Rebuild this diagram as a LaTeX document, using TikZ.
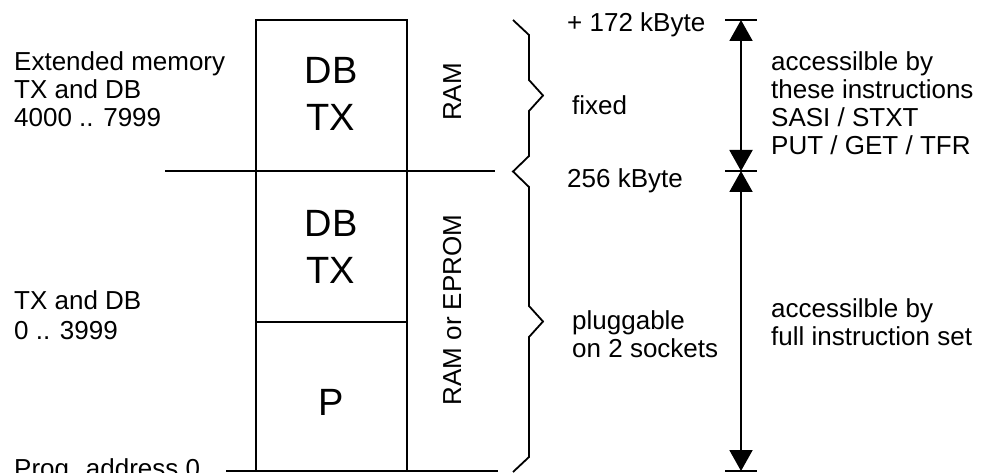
\documentclass[tikz,border=0pt]{standalone}
\usepackage{fontspec}
\setmainfont{Liberation Sans}
\usetikzlibrary{arrows.meta}
\tikzset{
  lbl/.style={anchor=base west, inner sep=0pt, font=\fontsize{26}{28}\selectfont},
  big/.style={anchor=base, inner sep=0pt, font=\fontsize{38}{44}\selectfont},
  rot/.style={anchor=base, inner sep=0pt, rotate=90, font=\fontsize{26}{28}\selectfont},
  thickline/.style={line width=2pt},
  thinline/.style={line width=1.2pt},
  bracestyle/.style={line width=1.8pt, line join=miter},
  dimarrow/.style={line width=2pt, {Triangle[width=23pt,length=21pt]}-{Triangle[width=23pt,length=21pt]}},
}
\begin{document}
\begin{tikzpicture}[x=1pt,y=-1pt]
\useasboundingbox (0,0) rectangle (987,473);
\clip (0,0) rectangle (987,473);
\fill[white] (0,0) rectangle (987,473);

% box
\draw[thinline] (256,471) -- (256,20) -- (407,20) -- (407,471);
\draw[thickline] (165,171) -- (495,171);
\draw[thickline] (256,322) -- (407,322);
\draw[thickline] (226,471) -- (498,471);

% brace
\draw[bracestyle] (513,20) -- (529,35) -- (529,80) -- (543,95.5) -- (529,111) -- (529,156) -- (513,171.5)
  -- (529,187) -- (529,306) -- (543,321.5) -- (529,337) -- (529,457) -- (513,472);

% ticks and arrows
\coordinate (t1) at (741,20);
\coordinate (t2) at (741,171);
\coordinate (t3) at (741,471);
\draw[thickline] (725,20) -- (757,20);
\draw[thickline] (725,171) -- (757,171);
\draw[thickline] (725,471) -- (757,471);
\draw[dimarrow] (t1) -- (t2);
\draw[dimarrow] (t2) -- (t3);

% texts in box
\node[big] (db1) at (331,84) {DB};
\node[big] (tx1) at (331,131) {TX};
\node[big] (db2) at (331,236) {DB};
\node[big] (tx2) at (331,283) {TX};
\node[big] (p) at (331,415) {P};
\node[rot] (ram) at (461,92) {RAM};
\node[rot] (rameprom) at (461,310) {RAM or EPROM};

% left labels
\node[lbl] (l1) at (14,71) {Extended memory};
\node[lbl] (l2) at (14,99) {TX and DB};
\node[lbl] (l3) at (14,127) {4000 .. 7999};
\node[lbl] (l4) at (14,309) {TX and DB};
\node[lbl] (l5) at (14,339) {0 .. 3999};
\node[lbl] (l6) at (14,477) {Prog. address 0};

% middle labels
\node[lbl] (m1) at (567,32) {+ 172 kByte};
\node[lbl] (m2) at (572,115) {fixed};
\node[lbl] (m3) at (567,187) {256 kByte};
\node[lbl] (m4) at (572,329) {pluggable};
\node[lbl] (m5) at (572,357) {on 2 sockets};

% right labels
\node[lbl] (r1) at (771,71) {accessilble by};
\node[lbl] (r2) at (771,99) {these instructions};
\node[lbl] (r3) at (771,127) {SASI / STXT};
\node[lbl] (r4) at (771,155) {PUT / GET / TFR};
\node[lbl] (r5) at (771,317) {accessilble by};
\node[lbl] (r6) at (771,345) {full instruction set};
\end{tikzpicture}
\end{document}
